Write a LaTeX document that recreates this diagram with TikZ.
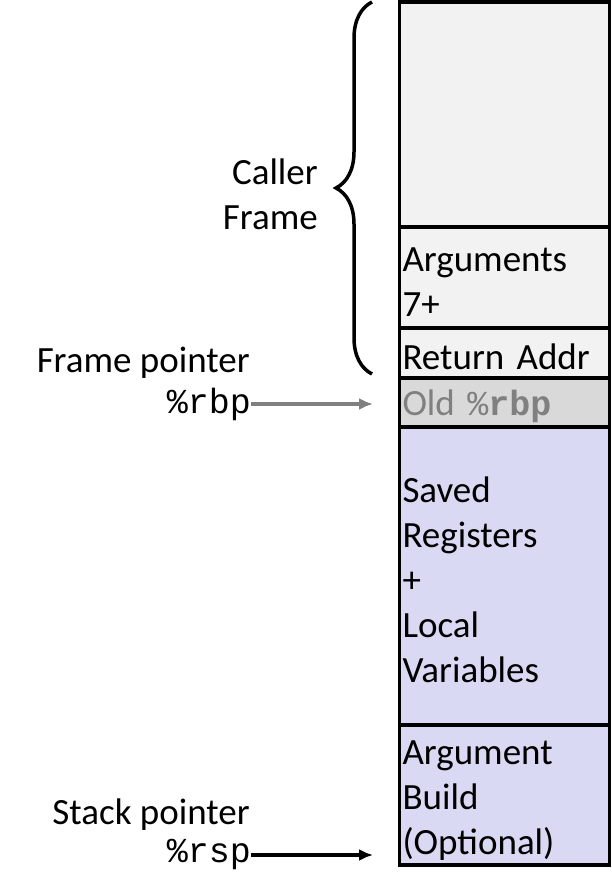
\documentclass[tikz,border=0pt]{standalone}
\usepackage{fontspec}
\setmainfont{Carlito}
\setmonofont{Liberation Mono}
\usetikzlibrary{arrows.meta,positioning,decorations.pathreplacing}
\definecolor{framegray}{HTML}{F2F2F2}
\definecolor{oldgray}{HTML}{D9D9D9}
\definecolor{localblue}{HTML}{D9D9F3}
\definecolor{arrowgray}{HTML}{808080}
\newcommand{\regname}[1]{{\fontsize{35}{45}\selectfont\ttfamily #1}}

\begin{document}
\begin{tikzpicture}[x=1pt, y=1pt, font=\fontsize{37}{45}\selectfont,
    cell/.style = {draw, line width=3.5pt, outer sep=0pt, minimum width=210pt,
                   text width=204pt, inner xsep=3pt, inner ysep=0pt, align=left,
                   execute at begin node=\rule{0pt}{34pt}},
    label/.style = {inner sep=0pt},
    pointer/.style = {line width=3.5pt, -{Latex[length=14pt,width=12pt]}}]
    \useasboundingbox (0,0) rectangle (611,881);

    % the stack, top to bottom
    \node[cell, fill=framegray, minimum height=225pt, anchor=north west] (caller) at (399.5,879) {};
    \node[cell, fill=framegray, minimum height=101pt] (args) [below=0pt of caller] {Arguments\\7+};
    \node[cell, fill=framegray, minimum height=50pt] (retaddr) [below=0pt of args] {Return Addr};
    \node[cell, fill=oldgray, minimum height=49pt, text=arrowgray] (oldrbp) [below=0pt of retaddr] {Old \regname{\%\textbf{rbp}}};
    \node[cell, fill=localblue, minimum height=298pt] (saved) [below=0pt of oldrbp] {Saved\\Registers\\+\\Local\\Variables};
    \node[cell, fill=localblue, minimum height=140pt] (argbuild) [below=0pt of saved] {Argument\\Build\\(Optional)};

    % caller frame brace
    \coordinate (bracetop) at (372,879);
    \coordinate (bracebot) at (372,507);
    \coordinate (bracetip) at (336,693);
    \draw[line width=3.5pt, decorate, decoration={brace, amplitude=36pt}] (bracebot) -- (bracetop);
    \node[label, align=right, yshift=-6pt] (callerlbl) [left=18pt of bracetip] {Caller\\Frame};

    % frame pointer
    \node[label, anchor=east] (fplbl) at (250,518) {Frame pointer};
    \node[label, anchor=east] (rbplbl) at (251,477) {\regname{\%rbp}};
    \coordinate (rbptip) at (373,477);
    \draw[pointer, arrowgray] (rbplbl) -- (rbptip);

    % stack pointer
    \node[label, anchor=east] (splbl) at (250,66) {Stack pointer};
    \node[label, anchor=east] (rsplbl) at (251,26) {\regname{\%rsp}};
    \coordinate (rsptip) at (373,26);
    \draw[pointer] (rsplbl) -- (rsptip);
\end{tikzpicture}
\end{document}
